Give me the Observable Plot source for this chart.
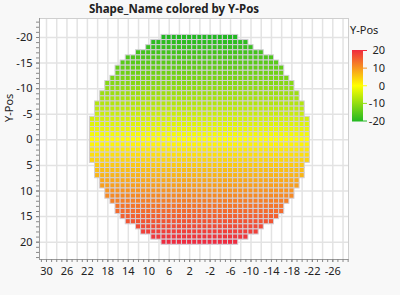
<!DOCTYPE html>
<html><head><meta charset="utf-8">
<script src="https://cdn.jsdelivr.net/npm/d3@7"></script>
<script src="https://cdn.jsdelivr.net/npm/@observablehq/plot@0.6"></script>
<style>
html,body{margin:0;padding:0;background:#f8f8f8;}
#wrap{position:relative;width:400px;height:295px;font-family:"Noto Sans",sans-serif;overflow:hidden;}
#title{position:absolute;left:0;width:348px;top:0;text-align:center;font-weight:bold;font-size:11.5px;color:#222;line-height:18px;}
#chart{position:absolute;left:0;top:0;}
#legend{position:absolute;left:340px;top:18px;}
</style></head><body>
<div id="wrap"><div id="chart"></div><div id="title">Shape_Name colored by Y-Pos</div><div id="legend"></div></div>
<script>
// Row positions (Y-Pos) and the number of dies each side of x = 0 in each row
const rowY = [-20,-19,-18,-17,-16,-15,-14,-13,-12,-11,-10,-9,-8,-7,-6,-5,-4,-3,-2,-1,0,1,2,3,4,5,6,7,8,9,10,11,12,13,14,15,16,17,18,19,20];
const rowHalfWidth = [7,9,10,12,14,15,16,16,17,18,18,19,19,20,20,20,21,21,21,21,21,21,21,21,21,20,20,20,19,19,18,18,17,16,16,15,14,12,11,9,7];
const xTickLabels = [30,26,22,18,14,10,6,2,-2,-6,-10,-14,-18,-22,-26];
const yTickLabels = [-20,-15,-10,-5,0,5,10,15,20];
const legendTicks = [20,10,0,-10,-20];
const colorDomain = [-20,0,20];
const colorRange = ["#22b822","#ffff00","#ef2b3f"];

const cells = [];
rowY.forEach((y,i)=>{
  const h = rowHalfWidth[i];
  for (let x = h; x >= -h; x--) cells.push({x, y});
});

const xDom = [31.37, -29.07];
const yDom = [23.38, -23.71];
const xMinor = d3.range(31, -30, -1);
const xGrid = d3.range(30, -29, -2);
const yMinor = d3.range(-23, 24, 1);
const fmt = d => String(d);

const chart = Plot.plot({
  width: 400, height: 295,
  marginTop: 18, marginBottom: 36, marginLeft: 39, marginRight: 52,
  style: {background: "transparent", fontFamily: "Noto Sans, sans-serif", fontSize: "11px", color: "#222"},
  x: {domain: xDom},
  y: {domain: yDom},
  color: {type: "linear", domain: colorDomain, range: colorRange, interpolate: "rgb"},
  marks: [
    Plot.frame({fill: "white", stroke: "none"}),
    Plot.gridX(xGrid, {stroke: "#e3e3e3", strokeOpacity: 1, strokeWidth: 1.5}),
    Plot.gridY(yTickLabels, {stroke: "#e3e3e3", strokeOpacity: 1, strokeWidth: 1.5}),
    Plot.rect(cells, {x1: d => d.x + 0.5, x2: d => d.x - 0.5, y1: d => d.y - 0.5, y2: d => d.y + 0.5, fill: "y", stroke: "#d2ced6", strokeWidth: 1}),
    Plot.frame({stroke: "#cfcfcf"}),
    Plot.ruleY([yDom[0]], {stroke: "#9a9a9a"}),
    Plot.ruleX([xDom[0]], {stroke: "#9a9a9a"}),
    Plot.axisX(xMinor, {tickSize: 3, tickFormat: () => "", stroke: "#888", label: null}),
    Plot.axisX(xTickLabels, {tickSize: 3, tickPadding: 5, tickFormat: fmt, stroke: "#888", label: null, fill: "#222"}),
    Plot.axisY(yMinor, {tickSize: 3, tickFormat: () => "", stroke: "#888", label: null}),
    Plot.axisY(yTickLabels, {tickSize: 3, tickPadding: 4, tickFormat: fmt, stroke: "#888", label: null, fill: "#222"}),
    Plot.text(["Y-Pos"], {frameAnchor: "left", rotate: -90, dx: -30, dy: -17, text: d => d, fill: "#222", fontSize: 11})
  ]
});
document.getElementById("chart").appendChild(chart);

// Legend
const lg = d3.select("#legend").append("svg").attr("width", 60).attr("height", 120)
  .style("font-family", "Noto Sans, sans-serif").style("font-size", "11px");
const defs = lg.append("defs");
const grad = defs.append("linearGradient").attr("id", "lgrad").attr("x1", 0).attr("y1", 0).attr("x2", 0).attr("y2", 1);
const cscale = d3.scaleLinear().domain(colorDomain).range(colorRange).interpolate(d3.interpolateRgb);
[20, 10, 0, -10, -20].forEach((v, i) => grad.append("stop").attr("offset", i / 4).attr("stop-color", cscale(v)));
lg.append("text").attr("x", 10).attr("y", 16).attr("fill", "#222").text("Y-Pos");
const ly = d3.scaleLinear().domain([20, -20]).range([32.5, 103]);
lg.append("rect").attr("x", 12).attr("y", 32).attr("width", 11).attr("height", 71.5).attr("fill", "url(#lgrad)");
legendTicks.forEach(v => {
  lg.append("line").attr("x1", 23).attr("x2", 27).attr("y1", ly(v)).attr("y2", ly(v)).attr("stroke", cscale(v));
  lg.append("text").attr("x", 45).attr("y", ly(v)).attr("dy", "0.35em").attr("text-anchor", "end").attr("fill", "#222").text(String(v));
});
</script>
</body></html>
